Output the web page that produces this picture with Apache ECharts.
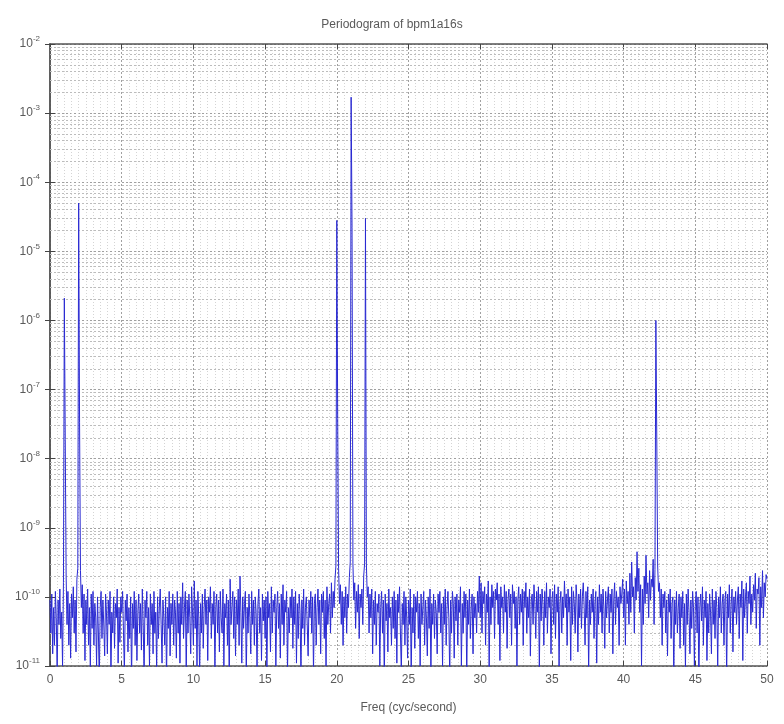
<!DOCTYPE html>
<html>
<head>
<meta charset="utf-8">
<script src="https://cdn.jsdelivr.net/npm/echarts@6/dist/echarts.min.js"></script>
<style>
  html, body { margin: 0; padding: 0; background: #ffffff; }
  #chart { width: 784px; height: 724px; }
</style>
</head>
<body>
<div id="chart"></div>
<script>
// Frequency bins: 0 .. 50 cyc/second, spacing 1/16
const FREQ_START = 0;
const FREQ_STEP = 0.0625;

// Power spectral values, one row per whole frequency (16 bins each)
const power = [
  9e-11, 3e-11, 1.1e-10, 1.5e-11, 7e-11, 2e-11, 1.2e-10, 5e-11, 8e-12, 9e-11, 4e-11, 1.3e-10, 2.5e-11, 6e-11, 1e-11, 1.6e-10,          // 0
  2.1e-6, 1.9e-8, 2e-10, 4e-11, 1.2e-10, 2e-11, 8e-11, 1.3e-11, 1.1e-10, 5e-11, 1.4e-10, 3e-11, 9e-11, 1.6e-11, 1.8e-10, 2.6e-10,      // 1
  5e-5, 3.3e-8, 2.4e-10, 7e-11, 1.5e-10, 3e-11, 1.1e-10, 1.2e-11, 9e-11, 4e-11, 1.3e-10, 2e-11, 7e-11, 9e-12, 1.1e-10, 3.5e-11,        // 2
  1.2e-10, 2e-11, 8e-11, 5e-11, 1e-11, 1e-10, 3e-11, 6e-12, 7e-11, 1.2e-10, 2.5e-11, 9e-11, 4e-11, 1.4e-11, 1.1e-10, 6e-11,            // 3
  1.5e-11, 9e-11, 4e-11, 1.2e-10, 7e-12, 6e-11, 3e-11, 1e-10, 1.8e-11, 8e-11, 5e-11, 1.3e-10, 1.1e-11, 7e-11, 2.2e-11, 1e-10,          // 4
  6e-11, 1.2e-10, 3e-11, 8e-12, 9e-11, 4.5e-11, 1.1e-10, 1.6e-11, 7e-11, 2.5e-11, 1e-10, 6e-12, 8e-11, 3.5e-11, 1.2e-10, 2e-11,        // 5
  9e-11, 1.2e-11, 6e-11, 1.1e-10, 3e-11, 8e-11, 1.7e-11, 1.3e-10, 4e-11, 7e-12, 9e-11, 5e-11, 1.2e-10, 2e-11, 7e-11, 1e-11,            // 6
  1.1e-10, 4e-11, 8e-11, 1.5e-11, 1.2e-10, 3e-11, 6e-11, 9e-12, 1e-10, 2.5e-11, 7e-11, 1.3e-10, 4e-11, 1.1e-11, 9e-11, 5e-11,          // 7
  2e-11, 1e-10, 6e-12, 7e-11, 3.5e-11, 1.2e-10, 1.4e-11, 8e-11, 4e-11, 1.1e-10, 2e-11, 9e-11, 6e-11, 1.3e-11, 1.2e-10, 3e-11,          // 8
  8e-11, 1.1e-11, 1e-10, 4e-11, 1.6e-10, 2.5e-11, 7e-11, 1.2e-10, 8e-12, 9e-11, 3e-11, 1.1e-10, 5e-11, 1.5e-11, 1.4e-10, 6e-11,        // 9
  2e-11, 1.7e-10, 3.5e-11, 9e-11, 1e-11, 1.2e-10, 5e-11, 7e-12, 8e-11, 3e-11, 1.1e-10, 1.8e-11, 7e-11, 1.3e-10, 4e-11, 9e-11,          // 10
  1.2e-11, 1e-10, 6e-11, 1.4e-10, 2.5e-11, 8e-11, 4e-11, 1.2e-10, 9e-12, 7e-11, 1.1e-10, 3e-11, 9e-11, 1.6e-11, 1.2e-10, 5e-11,        // 11
  3e-11, 1.3e-10, 1e-11, 8e-11, 5e-11, 1.1e-10, 2e-11, 9e-11, 6e-12, 1.8e-10, 4e-11, 7e-11, 1.2e-10, 2.5e-11, 1e-10, 1.4e-11,          // 12
  9e-11, 4e-11, 1.3e-10, 2e-11, 2e-10, 6e-11, 1.1e-11, 1e-10, 3.5e-11, 8e-11, 1.2e-10, 7e-12, 7e-11, 3e-11, 1.1e-10, 5e-11,            // 13
  1.5e-11, 1.2e-10, 4e-11, 9e-11, 2e-11, 1e-10, 6e-11, 9e-12, 8e-11, 1.3e-10, 3e-11, 7e-11, 1.2e-11, 1.1e-10, 4.5e-11, 9e-11,          // 14
  2.5e-11, 1e-10, 7e-12, 1.2e-10, 5e-11, 8e-11, 1.6e-11, 1.4e-10, 3e-11, 9e-11, 6e-11, 1.1e-10, 1e-11, 7e-11, 1.2e-10, 3.5e-11,        // 15
  8e-11, 1.3e-11, 1.1e-10, 4e-11, 1.5e-10, 2e-11, 9e-11, 6e-11, 1.2e-10, 8e-12, 7e-11, 3e-11, 1e-10, 5e-11, 1.3e-10, 1.8e-11,          // 16
  1e-10, 4e-11, 1.2e-10, 1.1e-11, 8e-11, 2.5e-11, 1.1e-10, 6e-11, 7e-12, 9e-11, 3.5e-11, 1.3e-10, 2e-11, 7e-11, 1e-10, 4e-11,          // 17
  1.4e-11, 9e-11, 5e-11, 1.2e-10, 3e-11, 1e-10, 8e-12, 8e-11, 1.1e-10, 2e-11, 7e-11, 1.3e-10, 4e-11, 9e-11, 1.5e-11, 1.1e-10,          // 18
  6e-11, 1.2e-10, 2.5e-11, 9e-11, 1e-11, 1.4e-10, 4e-11, 8e-11, 1.1e-10, 3e-11, 1.6e-10, 5e-11, 1.2e-10, 7e-11, 1.8e-10, 2.8e-10,      // 19
  2.8e-5, 3.8e-8, 2.6e-10, 8e-11, 1.5e-10, 4e-11, 1.2e-10, 2e-11, 1e-10, 5e-11, 1.4e-10, 3e-11, 1.1e-10, 7e-11, 1.9e-10, 3.2e-10,      // 20
  1.7e-3, 2.2e-5, 3e-10, 9e-11, 1.6e-10, 3.5e-11, 1.2e-10, 6e-11, 1.5e-10, 2.5e-11, 1.1e-10, 7e-11, 1.3e-10, 4e-11, 2e-10, 3e-10,      // 21
  3e-5, 3e-10, 1e-10, 1.4e-10, 3e-11, 1.1e-10, 5e-11, 1.3e-10, 1.5e-11, 9e-11, 4e-11, 1.2e-10, 2e-11, 8e-11, 6e-11, 1.1e-10,           // 22
  1e-11, 7e-11, 1.2e-10, 3e-11, 9e-11, 6e-12, 1.1e-10, 4.5e-11, 8e-11, 1.6e-11, 1.3e-10, 5e-11, 7e-11, 2e-11, 1e-10, 3.5e-11,          // 23
  1.2e-10, 2.5e-11, 9e-11, 1.1e-11, 1.1e-10, 6e-11, 1.4e-10, 3e-11, 8e-12, 8e-11, 4e-11, 1.2e-10, 2e-11, 1e-10, 5e-11, 1.3e-11,        // 24
  9e-11, 4e-11, 1.3e-10, 7e-12, 7e-11, 3e-11, 1.1e-10, 1.8e-11, 1e-10, 6e-11, 1.2e-10, 2.5e-11, 8e-11, 1e-11, 1.1e-10, 4e-11,          // 25
  7e-11, 1.2e-10, 2e-11, 9e-11, 5e-11, 1.4e-11, 1e-10, 3.5e-11, 1.3e-10, 8e-12, 8e-11, 4e-11, 1.1e-10, 2.5e-11, 9e-11, 6e-11,          // 26
  1.5e-11, 1.1e-10, 6e-11, 1.2e-10, 3e-11, 8e-11, 1e-11, 1e-10, 4e-11, 1.3e-10, 2e-11, 7e-11, 1.2e-10, 5e-11, 7e-12, 9e-11,            // 27
  3e-11, 1.2e-10, 8e-11, 1.3e-11, 1e-10, 4.5e-11, 1.1e-10, 2e-11, 9e-11, 6e-11, 1.4e-10, 1e-11, 8e-11, 3e-11, 1.2e-10, 5e-11,          // 28
  1.1e-10, 7e-12, 9e-11, 4e-11, 1.3e-10, 2.5e-11, 7e-11, 1.1e-10, 1.5e-11, 1e-10, 5e-11, 8e-11, 3e-11, 1.2e-10, 6e-11, 2e-10,          // 29
  5e-11, 1.6e-10, 3e-11, 1.2e-10, 8e-11, 1.4e-10, 2e-11, 1.1e-10, 6e-11, 1.7e-10, 9e-12, 1e-10, 4e-11, 1.5e-10, 7e-11, 1.2e-10,        // 30
  2.5e-11, 1.3e-10, 9e-11, 1.6e-10, 4e-11, 1.1e-10, 1.2e-11, 1.4e-10, 7e-11, 1e-10, 3e-11, 1.5e-10, 6e-11, 1.2e-10, 1.8e-11, 9e-11,    // 31
  1.3e-10, 5e-11, 1.1e-10, 2e-11, 1.5e-10, 8e-11, 1.2e-10, 3.5e-11, 1e-10, 1e-11, 9e-11, 1.4e-10, 4e-11, 1.1e-10, 6e-11, 1.3e-10,      // 32
  2e-11, 1.2e-10, 7e-11, 1.6e-10, 3e-11, 1e-10, 5e-11, 1.3e-10, 1.4e-11, 9e-11, 1.1e-10, 4e-11, 1.5e-10, 8e-11, 2.5e-11, 1.2e-10,      // 33
  6e-11, 1.4e-10, 9e-12, 1.1e-10, 4.5e-11, 1.3e-10, 8e-11, 2e-11, 1.2e-10, 5e-11, 1.6e-10, 3e-11, 1e-10, 7e-11, 1.3e-10, 1.5e-11,      // 34
  9e-11, 1.2e-10, 4e-11, 1.5e-10, 2.5e-11, 1.1e-10, 6e-11, 1.4e-10, 1e-11, 8e-11, 1.2e-10, 3e-11, 1e-10, 5e-11, 1.7e-10, 7e-11,        // 35
  1.1e-10, 2e-11, 1.3e-10, 6e-11, 1e-10, 1.2e-11, 1.4e-10, 4e-11, 1.2e-10, 8e-11, 3e-11, 1.5e-10, 9e-11, 1.6e-11, 1.1e-10, 5e-11,      // 36
  1.3e-10, 3.5e-11, 1e-10, 1.6e-10, 7e-11, 2e-11, 1.2e-10, 5e-11, 1.4e-10, 8e-12, 9e-11, 4e-11, 1.1e-10, 6e-11, 1.3e-10, 2.5e-11,      // 37
  8e-11, 1.2e-10, 1.1e-11, 1e-10, 4e-11, 1.5e-10, 6e-11, 1.1e-10, 3e-11, 1.3e-10, 7e-11, 1.8e-11, 1.2e-10, 5e-11, 9e-11, 1.4e-10,      // 38
  3e-11, 1.1e-10, 6e-11, 1.3e-10, 1.5e-11, 9e-11, 1.6e-10, 4e-11, 1.2e-10, 7e-11, 1e-10, 2e-11, 1.4e-10, 8e-11, 1.1e-10, 1.8e-10,      // 39
  5e-11, 1.3e-10, 2e-11, 1.7e-10, 8e-11, 1.2e-10, 4e-11, 2.2e-10, 6e-11, 3.2e-10, 1e-10, 1.4e-10, 3e-11, 1.9e-10, 9e-11, 4.5e-10,      // 40
  1.2e-10, 2.6e-10, 6e-11, 1.5e-10, 1e-11, 1.3e-10, 4e-11, 2e-10, 8e-11, 4e-10, 1.1e-10, 1.6e-10, 5e-11, 2.4e-10, 9e-11, 1.8e-10,      // 41
  1.4e-10, 3.5e-10, 4e-11, 2.5e-10, 1e-6, 2.2e-8, 2.8e-10, 1.2e-10, 1.6e-10, 5e-11, 1.3e-10, 2e-11, 1.1e-10, 7e-11, 1.2e-10, 3e-11,    // 42
  9e-11, 1.4e-11, 1.1e-10, 6e-11, 1.3e-10, 2.5e-11, 8e-11, 1e-10, 7e-12, 9e-11, 4e-11, 1.2e-10, 3e-11, 7e-11, 1.1e-10, 1.8e-11,        // 43
  1e-10, 5e-11, 1.2e-10, 2e-11, 8e-11, 9e-12, 1.1e-10, 4e-11, 1.3e-10, 6e-11, 1.5e-11, 9e-11, 3.5e-11, 1.2e-10, 7e-11, 1e-11,          // 44
  8e-11, 1.2e-10, 3e-11, 1e-10, 6e-12, 7e-11, 1.1e-10, 4.5e-11, 1.4e-10, 2e-11, 9e-11, 5e-11, 1.2e-10, 1.2e-11, 8e-11, 3e-11,          // 45
  1.1e-10, 6e-11, 1.5e-11, 1.3e-10, 4e-11, 9e-11, 2.5e-11, 1.2e-10, 7e-11, 1e-11, 1e-10, 5e-11, 1.4e-10, 3e-11, 8e-11, 1.1e-10,        // 46
  2e-11, 9e-11, 1.2e-10, 7e-12, 1.1e-10, 5e-11, 1.5e-10, 3e-11, 8e-11, 1.3e-10, 1.6e-11, 1e-10, 6e-11, 1.2e-10, 4e-11, 9e-11,          // 47
  1.4e-10, 2.5e-11, 1.1e-10, 7e-11, 1.7e-10, 1.2e-11, 1.3e-10, 5e-11, 1e-10, 1.6e-10, 3e-11, 1.2e-10, 8e-11, 2e-10, 4e-11, 1.1e-10,    // 48
  6e-11, 1.5e-10, 9e-11, 2.2e-10, 3.5e-11, 1.3e-10, 1.1e-10, 1.9e-10, 2e-11, 1.4e-10, 7e-11, 2.4e-10, 5e-11, 1.6e-10, 1e-10, 2.1e-10,  // 49
  1.8e-10                                                                                                                               // 50
];

const xTicks = [0, 5, 10, 15, 20, 25, 30, 35, 40, 45, 50];
const yDecades = [-11, -10, -9, -8, -7, -6, -5, -4, -3, -2];

const titleText = 'Periodogram of bpm1a16s';
const xLabel = 'Freq (cyc/second)';

const FONT = "'Liberation Sans Narrow', 'Liberation Sans', Arial, sans-serif";
const TXT = '#5a5a5a';

const seriesData = power.map((v, i) => [FREQ_START + i * FREQ_STEP, v]);

const xMin = xTicks[0];
const xMax = xTicks[xTicks.length - 1];
const yMin = Math.pow(10, yDecades[0]);
const yMax = Math.pow(10, yDecades[yDecades.length - 1]);

// dotted lines at 2..9 within each decade (log minor grid), drawn edge to edge
const minorGrid = [];
for (let d = yDecades[0]; d < yDecades[yDecades.length - 1]; d++) {
  for (let m = 2; m <= 9; m++) {
    const v = m * Math.pow(10, d);
    minorGrid.push([{ coord: [xMin, v] }, { coord: [xMax, v] }]);
  }
}

const chart = echarts.init(document.getElementById('chart'), null, { renderer: 'canvas' });

const tickStyle = { color: '#444', width: 1 };

chart.setOption({
  animation: false,
  backgroundColor: '#ffffff',
  title: {
    text: titleText,
    left: 'center',
    top: 14,
    textStyle: { fontFamily: FONT, fontSize: 12, fontWeight: 'normal', color: TXT }
  },
  grid: { left: 50, right: 17, top: 44, bottom: 58 },
  xAxis: [
    {
      type: 'value',
      min: xMin,
      max: xMax,
      interval: 5,
      name: xLabel,
      nameLocation: 'middle',
      nameGap: 36,
      nameTextStyle: { fontFamily: FONT, fontSize: 12, color: TXT },
      axisLine: { show: true, lineStyle: { color: '#555', width: 1.5 } },
      axisTick: { show: true, inside: true, length: 5, lineStyle: tickStyle },
      axisLabel: { fontFamily: FONT, fontSize: 12, color: TXT, margin: 8 },
      splitLine: { show: true, lineStyle: { color: '#a0a0a0', type: [2, 2], width: 1 } },
      minorTick: { show: false, splitNumber: 10 },
      minorSplitLine: { show: true, lineStyle: { color: '#d4d4d4', type: [1, 2], width: 1 } }
    },
    {
      type: 'value',
      position: 'top',
      min: xMin,
      max: xMax,
      interval: 5,
      axisLine: { show: true, lineStyle: { color: '#555', width: 1.5 } },
      axisTick: { show: true, inside: true, length: 5, lineStyle: tickStyle },
      axisLabel: { show: false },
      splitLine: { show: false }
    }
  ],
  yAxis: [
    {
      type: 'log',
      logBase: 10,
      min: yMin,
      max: yMax,
      axisLine: { show: true, lineStyle: { color: '#555', width: 1.5 } },
      axisTick: { show: true, inside: true, length: 5, lineStyle: tickStyle },
      axisLabel: {
        margin: 10,
        formatter: function (v) {
          const e = Math.round(Math.log10(v));
          return '{b|10}{e|' + e + '}';
        },
        rich: {
          b: { fontFamily: FONT, fontSize: 12, color: TXT },
          e: { fontFamily: FONT, fontSize: 8, color: TXT, padding: [0, 0, 10, 0] }
        }
      },
      splitLine: { show: true, lineStyle: { color: '#a0a0a0', type: [2, 2], width: 1 } }
    },
    {
      type: 'log',
      logBase: 10,
      min: yMin,
      max: yMax,
      position: 'right',
      axisLine: { show: true, lineStyle: { color: '#555', width: 1.5 } },
      axisTick: { show: true, inside: true, length: 5, lineStyle: tickStyle },
      axisLabel: { show: false },
      splitLine: { show: false }
    }
  ],
  series: [
    {
      type: 'line',
      xAxisIndex: 0,
      yAxisIndex: 0,
      data: seriesData,
      showSymbol: false,
      symbol: 'none',
      clip: true,
      lineStyle: { color: '#2a2ad2', width: 1 },
      markLine: {
        silent: true,
        symbol: ['none', 'none'],
        label: { show: false },
        emphasis: { disabled: true },
        lineStyle: { color: '#bcbcbc', type: [2, 2], width: 1 },
        data: minorGrid
      },
      z: 5
    }
  ]
});
</script>
</body>
</html>
